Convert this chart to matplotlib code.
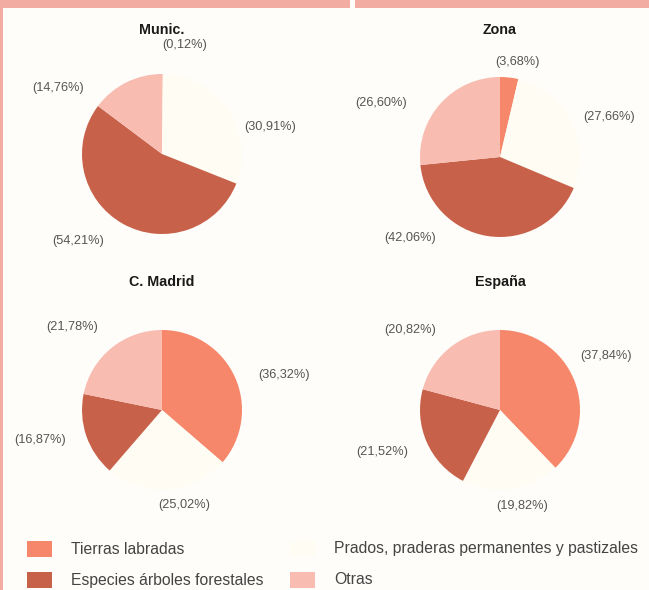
import matplotlib
matplotlib.use("Agg")
import matplotlib.pyplot as plt
from matplotlib.patches import Rectangle

# ---- data ----
categories = ["Tierras labradas", "Prados, praderas permanentes y pastizales",
              "Especies árboles forestales", "Otras"]
regions = ["Munic.", "Zona", "C. Madrid", "España"]
munic = [0.12, 30.91, 54.21, 14.76]
zona = [3.68, 27.66, 42.06, 26.60]
madrid = [36.32, 25.02, 16.87, 21.78]
espana = [37.84, 19.82, 21.52, 20.82]
series = [munic, zona, madrid, espana]

# ---- style / layout ----
W, H = 649, 590
bg = "#fefdf9"
colors = ["#f6876a", "#fffcf4", "#c8614a", "#f8bcb1"]
band = "#f3aca2"
FONT = ["Liberation Sans Narrow", "Liberation Sans", "DejaVu Sans"]
plt.rcParams["font.family"] = FONT

centers = [(162, 154), (500, 157), (162, 410), (500, 410)]  # pixel coords (y down)
radius = 80
title_pos = [(162, 30), (500, 30), (162, 282), (500, 282)]
# label positions in pixels, ordered like categories
label_pos = [
    [(185, 45), (270, 127), (78, 241), (58, 88)],
    [(518, 62), (609, 117), (410, 238), (381, 103)],
    [(284, 375), (184, 505), (40, 440), (72, 327)],
    [(606, 356), (522, 506), (382, 452), (410, 330)],
]

fig = plt.figure(figsize=(W / 100, H / 100), dpi=100, facecolor=bg)
ax = fig.add_axes([0, 0, 1, 1])
ax.set_xlim(0, W)
ax.set_ylim(0, H)
ax.set_aspect("equal")
ax.axis("off")
ax.set_facecolor(bg)

# header decoration
ax.add_patch(Rectangle((0, H - 8), 350, 8, color=band, lw=0))
ax.add_patch(Rectangle((355, H - 8), W - 355, 8, color=band, lw=0))
ax.add_patch(Rectangle((0, 0), 3, H, color=band, lw=0))

def fmt(v):
    return "(" + f"{v:.2f}".replace(".", ",") + "%)"

for name, vals, (cx, cy), (tx, ty), lps in zip(regions, series, centers, title_pos, label_pos):
    ax.pie(vals, colors=colors, startangle=90, counterclock=False,
           center=(cx, H - cy), radius=radius, normalize=True,
           wedgeprops=dict(linewidth=0))
    ax.text(tx, H - ty, name, ha="center", va="center", fontsize=10.3,
            fontweight="bold", color="#1a1a1a")
    for v, (lx, ly) in zip(vals, lps):
        ax.text(lx, H - ly, fmt(v), ha="center", va="center", fontsize=9.2,
                color="#555555")

ax.set_xlim(0, W)
ax.set_ylim(0, H)

# legend (manual, two columns)
leg_pos = [(27, 549), (290, 549), (27, 580), (290, 580)]
for cat, col, (lx, ly) in zip(categories, colors, leg_pos):
    ax.add_patch(Rectangle((lx, H - ly - 8), 25, 16, color=col, lw=0))
    ax.text(lx + 44, H - ly, cat, ha="left", va="center", fontsize=11.3,
            color="#444444")

fig.savefig("out.png", dpi=100, facecolor=bg)
